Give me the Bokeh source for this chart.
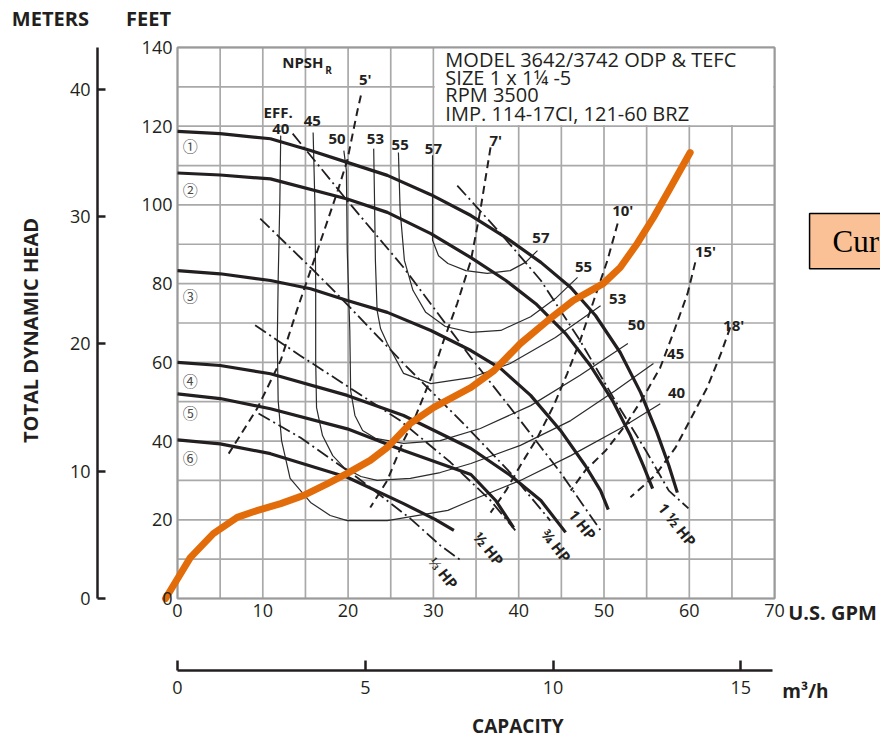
import math
from bokeh.plotting import figure
from bokeh.models import Range1d, LinearAxis, FixedTicker, ColumnDataSource
from bokeh.core.properties import value
from bokeh.embed import file_html
from bokeh.resources import INLINE

# ---------------- axes / scales ----------------
GPM_TICKS = [0, 10, 20, 30, 40, 50, 60, 70]
FT_TICKS = [0, 20, 40, 60, 80, 100, 120, 140]
M_TICKS = [0, 10, 20, 30, 40]
M3H_TICKS = [0, 5, 10, 15]
GPM_GRID = list(range(0, 71, 5))
FT_GRID = list(range(0, 141, 10))
GPM_MAX = 70
FT_MAX = 140
GPM_PER_M3H = 4.40287
M_TOP = 43.3          # meters printed at the 140 ft line

# ---------------- impeller head curves (GPM, ft) ----------------
IMP1_Q = [0, 5, 10.9, 15.6, 19.9, 24.6, 29.7, 34.4, 38.5, 42.6, 46.1, 49.0, 51.9, 54.3, 56.2, 57.6, 58.6]
IMP1_H = [118.7, 118.1, 116.8, 113.8, 110.8, 107.5, 102.6, 97.3, 91.7, 85.4, 79.0, 71.9, 62.5, 52.3, 42.2, 33.8, 26.9]
IMP2_Q = [0, 5, 10.9, 19.9, 24.6, 29.7, 34.4, 38.5, 42.0, 45.5, 48.4, 51.0, 53.1, 54.6, 55.7]
IMP2_H = [108.1, 107.6, 106.6, 101.5, 98.1, 92.7, 86.6, 80.8, 74.9, 67.3, 59.2, 50.3, 41.4, 33.8, 27.9]
IMP3_Q = [0, 5, 10.9, 15.6, 19.9, 24.6, 29.7, 34.4, 37.9, 41.4, 44.9, 47.8, 49.6, 50.5]
IMP3_H = [83.3, 82.5, 80.8, 78.7, 75.7, 72.7, 68.1, 63.0, 58.4, 51.6, 42.7, 33.8, 27.4, 22.6]
IMP4_Q = [0, 5, 10.9, 19.9, 26.5, 34.4, 39.0, 42.6, 45.5]
IMP4_H = [60.0, 59.2, 57.1, 51.6, 46.5, 38.1, 31.3, 24.9, 16.8]
IMP5_Q = [0, 5, 10.9, 19.9, 26.5, 34.4, 37.3, 39.4]
IMP5_H = [52.0, 50.8, 48.2, 43.1, 37.6, 31.5, 24.9, 18.0]
IMP6_Q = [0, 5, 10.9, 19.9, 26.5, 30.2, 32.4]
IMP6_H = [40.3, 39.3, 36.8, 30.8, 24.1, 20.1, 17.3]

# ---------------- efficiency contours ----------------
E40_Q = [12.1, 12.0, 11.8, 11.7, 11.8, 12.2, 13.2, 15.6, 17.9, 19.9, 24.6, 31.7, 34.4, 40.2, 46.1, 51.9, 56.6]
E40_H = [117.6, 101.1, 80.8, 65.5, 50.3, 40.1, 30.5, 24.4, 21.1, 19.8, 19.8, 22.4, 24.9, 30.0, 36.3, 43.2, 49.5]
E45_Q = [15.9, 16.1, 16.2, 16.2, 16.3, 17.0, 18.2, 19.5, 21.5, 23.4, 27.3, 30.8, 34.4, 40.2, 46.1, 51.3, 55.8]
E45_H = [118.4, 101.1, 80.8, 60.5, 48.5, 41.4, 36.3, 33.3, 31.0, 30.0, 30.5, 32.0, 34.3, 38.9, 45.2, 52.8, 59.7]
E50_Q = [19.5, 19.8, 19.9, 20.2, 20.3, 20.8, 21.7, 23.2, 26.5, 30.8, 35.5, 41.4, 47.2, 52.8]
E50_H = [113.8, 108.7, 88.4, 68.1, 52.8, 46.5, 42.7, 40.7, 39.4, 40.1, 43.2, 49.0, 56.7, 64.8]
E53_Q = [23.0, 23.1, 23.2, 23.4, 23.8, 24.6, 26.5, 29.7, 34.4, 39.0, 44.3, 49.6]
E53_H = [114.3, 101.1, 85.9, 73.2, 68.6, 64.8, 57.2, 54.6, 56.1, 59.7, 66.3, 74.4]
E55_Q = [25.9, 26.1, 26.6, 27.6, 29.1, 31.4, 34.4, 37.9, 41.4, 44.3, 46.9]
E55_H = [113.3, 98.6, 85.9, 78.3, 72.7, 69.1, 67.6, 68.1, 71.6, 76.2, 81.6]
E57_Q = [29.9, 29.9, 29.9, 30.6, 31.7, 33.8, 36.3, 39.0, 40.8, 42.2]
E57_H = [112.6, 101.1, 91.0, 87.1, 85.1, 83.3, 82.6, 83.3, 85.4, 88.4]

# ---------------- NPSHr curves ----------------
N5_Q = [21.5, 21.1, 19.9, 18.8, 16.4, 14.8, 14.1, 12.1, 9.4, 6.0]
N5_H = [127.8, 124.0, 111.3, 103.7, 88.4, 78.3, 73.9, 60.5, 48.5, 36.8]
N7_Q = [36.7, 35.5, 34.4, 32.8, 31.2, 29.7, 27.7, 26.5, 24.6, 22.6]
N7_H = [114.6, 98.6, 85.9, 75.0, 65.5, 55.9, 45.2, 40.1, 30.0, 23.1]
N10_Q = [51.6, 50.4, 48.8, 47.2, 45.7, 44.1, 42.2, 40.2, 38.5, 36.7]
N10_H = [95.3, 85.9, 75.7, 65.5, 57.2, 49.0, 40.9, 33.8, 27.4, 21.8]
N15_Q = [60.7, 59.8, 58.1, 56.6, 54.6, 52.5, 50.2, 47.8, 46.1]
N15_H = [85.4, 77.5, 67.3, 58.7, 51.1, 44.0, 37.6, 32.5, 27.4]
N18_Q = [64.8, 63.7, 62.1, 60.5, 58.4, 56.0, 53.1]
N18_H = [68.9, 62.2, 53.6, 47.0, 38.4, 31.3, 25.7]

# ---------------- HP lines ----------------
HP150_Q = [32.8, 37.9, 42.6, 47.2, 51.3, 54.9, 57.6, 59.9]
HP150_H = [104.9, 92.7, 80.8, 65.5, 50.3, 37.6, 27.4, 22.9]
HP100_Q = [13.5, 19.9, 26.5, 34.4, 40.2, 44.9, 49.6]
HP100_H = [118.1, 101.1, 84.1, 61.2, 45.2, 32.0, 17.3]
HP075_Q = [9.7, 15.6, 19.1, 26.5, 33.5, 39.0, 43.7]
HP075_H = [96.5, 84.1, 76.5, 59.7, 44.5, 32.0, 19.8]
HP050_Q = [9.1, 14.4, 20.3, 26.1, 32.0, 36.7, 39.6]
HP050_H = [69.4, 61.7, 53.4, 45.2, 34.6, 24.9, 17.3]
HP033_Q = [9.5, 14.4, 21.1, 27.3, 30.8, 33.2]
HP033_H = [47.0, 40.9, 30.7, 20.3, 13.5, 9.7]

# ---------------- system (orange) curve ----------------
SYS_Q = [-1.4, 1.5, 4.2, 7.0, 9.4, 12.1, 14.8, 17.6, 19.9, 22.6, 24.6, 27.3, 30.0, 34.4, 37.1,
         40.2, 43.4, 46.4, 49.9, 51.9, 53.9, 55.8, 57.8, 60.1]
SYS_H = [0, 10.4, 16.5, 20.6, 22.4, 24.1, 26.2, 29.2, 31.8, 35.1, 38.4, 44.5, 48.5, 53.6, 57.9,
         64.8, 70.6, 75.7, 80.0, 84.1, 90.2, 96.8, 104.4, 113.3]

# ---------------- labels ----------------
IMP_LABELS = ["①", "②", "③", "④", "⑤", "⑥"]
IMP_LAB_Q = [1.5, 1.5, 1.5, 1.5, 1.5, 1.5]
IMP_LAB_H = [115.1, 103.9, 77.0, 55.5, 47.3, 35.8]
EFF_TOP_LABELS = ["EFF.", "40", "45", "50", "53", "55", "57"]
EFF_TOP_Q = [11.8, 12.1, 15.8, 18.7, 23.2, 26.1, 30.0]
EFF_TOP_H = [123.5, 119.4, 121.2, 116.7, 116.8, 115.1, 114.3]
EFF_END_LABELS = ["57", "55", "53", "50", "45", "40"]
EFF_END_Q = [42.6, 47.6, 51.6, 53.8, 58.4, 58.5]
EFF_END_H = [91.5, 84.3, 76.0, 69.6, 62.2, 52.3]
NPSH_LABELS = ["5'", "7'", "10'", "15'", "18'"]
NPSH_LAB_Q = [22.0, 37.3, 52.2, 61.9, 65.2]
NPSH_LAB_H = [132.1, 116.4, 98.6, 88.4, 69.4]
HP_LABELS = ["⅓ HP", "½ HP", "¾ HP", "1 HP", "1 ½ HP"]
HP_LAB_Q = [31.2, 36.5, 44.4, 47.5, 58.6]
HP_LAB_H = [6.6, 12.7, 13.5, 18.8, 18.8]
MODEL_LINES = ["MODEL 3642/3742 ODP & TEFC", "SIZE 1 x 1¼ -5", "RPM 3500", "IMP. 114-17CI, 121-60 BRZ"]
MODEL_Q = 31.4
MODEL_H = [136.9, 132.3, 128.0, 123.3]
MODEL_BOX = (30.15, 69.85, 120.3, 139.85)

# ---------------- page layout (pixel scale of the printed chart) ----------------
PX_PER_GPM = 8.53
PX_PER_FT = 3.936
FRAME_LEFT_PX, FRAME_BOTTOM_PX = 177, 598
W, H = 880, 738
X_VIEW = (-FRAME_LEFT_PX / PX_PER_GPM, (W - FRAME_LEFT_PX) / PX_PER_GPM)
Y_VIEW = (-(H - FRAME_BOTTOM_PX) / PX_PER_FT, FRAME_BOTTOM_PX / PX_PER_FT)
M_PER_FT = M_TOP / FT_MAX
METER_AXIS_AT = -9.38      # GPM position of the meters scale
M3H_AXIS_AT = -18.29       # ft position of the m3/h scale

FONT = "Open Sans"
INK = "#231f20"
ORANGE = "#e36c0a"
GRID = "#a9a9a9"

p = figure(width=W, height=H, x_range=Range1d(*X_VIEW), y_range=Range1d(*Y_VIEW),
           x_axis_location=None, y_axis_location=None, min_border=0,
           output_backend="svg", toolbar_location=None)
p.title.visible = False
p.outline_line_color = None
p.background_fill_color = "white"
p.border_fill_color = "white"
p.grid.visible = False

# grid
p.segment(x0=GPM_GRID, y0=[0] * len(GPM_GRID), x1=GPM_GRID, y1=[FT_MAX] * len(GPM_GRID),
          line_color=GRID, line_width=1.7)
p.segment(x0=[0] * len(FT_GRID), y0=FT_GRID, x1=[GPM_MAX] * len(FT_GRID), y1=FT_GRID,
          line_color=GRID, line_width=1.7)
p.quad(left=MODEL_BOX[0], right=MODEL_BOX[1], bottom=MODEL_BOX[2], top=MODEL_BOX[3],
       fill_color="white", line_color=None)
p.quad(left=0, right=GPM_MAX, bottom=0, top=FT_MAX, fill_color=None, line_color="#9a9a9a", line_width=2)

def base_style(ax, line=False, tick_in=0):
    ax.major_label_text_font = FONT
    ax.major_label_text_font_size = "18px"
    ax.major_label_text_color = INK
    ax.minor_tick_line_color = None
    if line:
        ax.axis_line_color = INK
        ax.axis_line_width = 2.5
        ax.major_tick_line_color = INK
        ax.major_tick_line_width = 2.5
        ax.major_tick_in = tick_in
        ax.major_tick_out = 0
    else:
        ax.axis_line_color = None
        ax.major_tick_line_color = None
        ax.major_tick_in = 0
        ax.major_tick_out = 0

# GPM axis
xa = LinearAxis(ticker=FixedTicker(ticks=GPM_TICKS), fixed_location=0, bounds=(0, GPM_MAX))
base_style(xa)
xa.major_label_standoff = 5
p.add_layout(xa, "below")

# feet axis
ya = LinearAxis(ticker=FixedTicker(ticks=FT_TICKS), fixed_location=0, bounds=(0, FT_MAX))
base_style(ya)
ya.major_label_standoff = 5
p.add_layout(ya, "left")

# meters axis
p.extra_y_ranges = {"m": Range1d(Y_VIEW[0] * M_PER_FT, Y_VIEW[1] * M_PER_FT)}
ma = LinearAxis(y_range_name="m", ticker=FixedTicker(ticks=M_TICKS), fixed_location=METER_AXIS_AT,
                bounds=(0, M_TOP))
base_style(ma, line=True, tick_in=8)
ma.major_label_standoff = 7
p.add_layout(ma, "left")

# m3/h axis
p.extra_x_ranges = {"q": Range1d(X_VIEW[0] / GPM_PER_M3H, X_VIEW[1] / GPM_PER_M3H)}
qa = LinearAxis(x_range_name="q", ticker=FixedTicker(ticks=M3H_TICKS), fixed_location=M3H_AXIS_AT,
                bounds=(0, GPM_MAX / GPM_PER_M3H - 0.05))
base_style(qa, line=True, tick_in=10)
qa.major_label_standoff = 11
p.add_layout(qa, "below")

# efficiency contours
for q, h in [(E40_Q, E40_H), (E45_Q, E45_H), (E50_Q, E50_H), (E53_Q, E53_H), (E55_Q, E55_H), (E57_Q, E57_H)]:
    p.line(q, h, line_color="#2b2b2b", line_width=1.2)

# NPSH
for q, h in [(N5_Q, N5_H), (N7_Q, N7_H), (N10_Q, N10_H), (N15_Q, N15_H), (N18_Q, N18_H)]:
    p.line(q, h, line_color=INK, line_width=2, line_dash="8 5")

# HP lines
for q, h in [(HP150_Q, HP150_H), (HP100_Q, HP100_H), (HP075_Q, HP075_H), (HP050_Q, HP050_H), (HP033_Q, HP033_H)]:
    p.line(q, h, line_color=INK, line_width=1.8, line_dash="13 4 2 4")

# impeller curves
for q, h in [(IMP1_Q, IMP1_H), (IMP2_Q, IMP2_H), (IMP3_Q, IMP3_H), (IMP4_Q, IMP4_H), (IMP5_Q, IMP5_H), (IMP6_Q, IMP6_H)]:
    p.line(q, h, line_color=INK, line_width=3.2, line_join="round")

def texts(labels, xs, ys, size, bold=True, font=FONT, color=INK, align="center", angle=0.0):
    src = ColumnDataSource(dict(x=xs, y=ys, t=labels))
    p.text(x="x", y="y", text="t", source=src, text_font=value(font), text_font_size=size,
           text_font_style="bold" if bold else "normal", text_color=color,
           text_align=align, text_baseline="middle", angle=angle)

texts(IMP_LABELS, IMP_LAB_Q, IMP_LAB_H, "15px", bold=False, font="Noto Sans CJK JP", color="#4a4a4a")
texts(EFF_TOP_LABELS, EFF_TOP_Q, EFF_TOP_H, "15px")
texts(EFF_END_LABELS, EFF_END_Q, EFF_END_H, "15px")
texts(NPSH_LABELS, NPSH_LAB_Q, NPSH_LAB_H, "15px")
texts(HP_LABELS, HP_LAB_Q, HP_LAB_H, "15px", angle=-0.9)
texts(["NPSH"], [14.7], [136.2], "15px")
texts(["R"], [17.7], [134.3], "10px")
texts(MODEL_LINES, [MODEL_Q] * 4, MODEL_H, "20px", bold=False, align="left")

# system curve (orange)
p.line(SYS_Q, SYS_H, line_color=ORANGE, line_width=7, line_cap="round", line_join="round")

# titles around the chart
texts(["METERS", "FEET"], [-14.9, -3.4], [147.4, 147.4], "20px")
texts(["TOTAL DYNAMIC HEAD"], [-17.2], [68.1], "20px", angle=math.pi / 2)
texts(["U.S. GPM"], [71.6], [-3.6], "20px", align="left")
texts(["m³/h"], [70.9], [-23.4], "19px", align="left")
texts(["CAPACITY"], [39.9], [-32.3], "19px")

# callout box at right edge
p.quad(left=74.1, right=X_VIEW[1] + 2, bottom=83.8, top=97.8, fill_color="#f9c195",
       line_color="black", line_width=1.5)
texts(["Cur"], [76.8], [90.8], "31px", bold=False, font="Liberation Serif", color="black", align="left")

open("out.html", "w").write(file_html(p, INLINE))
